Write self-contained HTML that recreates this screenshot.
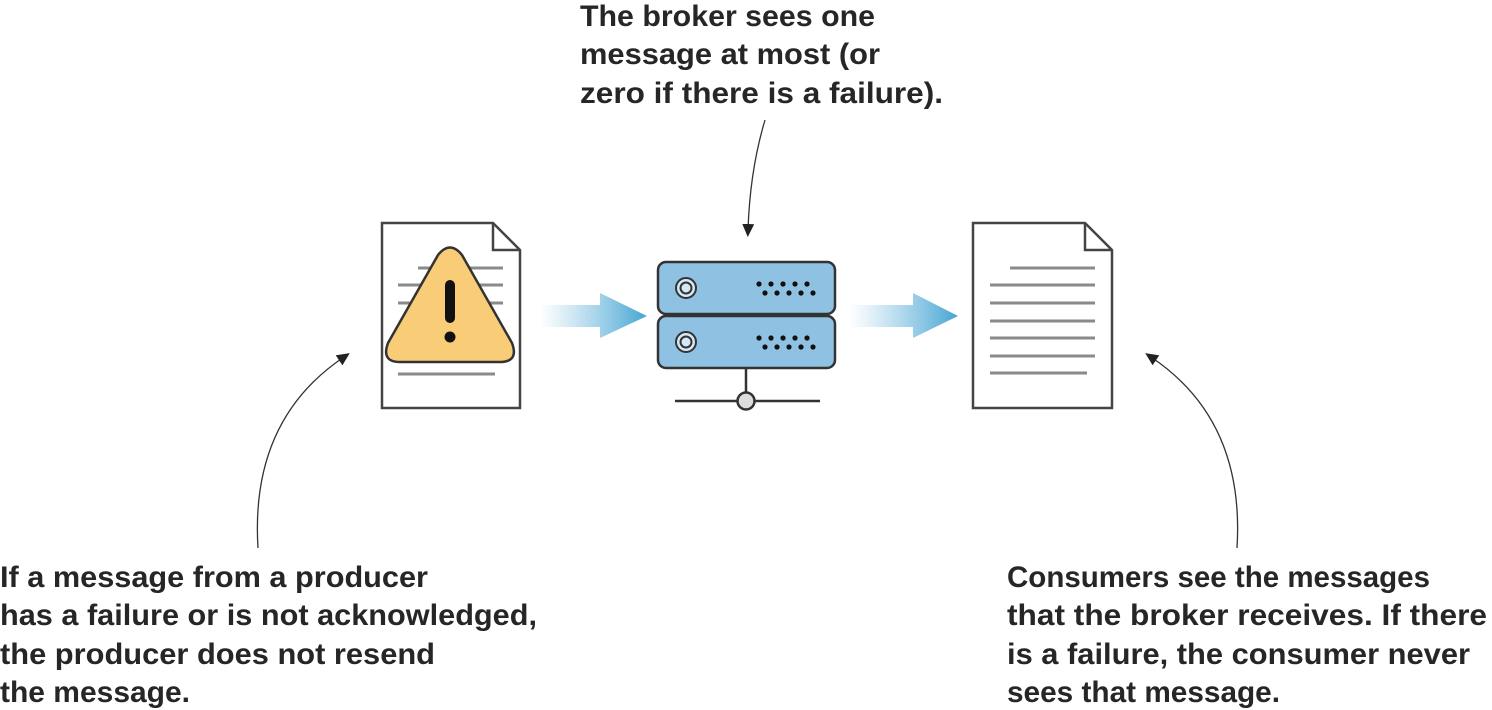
<!DOCTYPE html>
<html><head><meta charset="utf-8"><style>
html,body{margin:0;padding:0;background:#fff;width:1492px;height:710px;overflow:hidden}
svg text{font-family:"Liberation Sans",sans-serif;font-weight:bold;font-size:30px;fill:#262626}
</style></head><body>
<svg width="1492" height="710" viewBox="0 0 1492 710" xmlns="http://www.w3.org/2000/svg">
<defs>
<linearGradient id="g" x1="0" x2="1" y1="0" y2="0">
<stop offset="0" stop-color="#6fb8dc" stop-opacity="0"/>
<stop offset="1" stop-color="#45a5d3"/>
</linearGradient>
<marker id="ah" markerWidth="14" markerHeight="14" refX="6" refY="6" orient="auto" markerUnits="userSpaceOnUse">
<path d="M0,0 L13,6 L0,12 Z" fill="#222"/>
</marker>
</defs>

<path d="M382,223 H493 L520,250 V408 H382 Z" fill="#fff" stroke="#444" stroke-width="2.5"/>
<path d="M493,223 V250 H520" fill="none" stroke="#444" stroke-width="2.5"/>
<g stroke="#8a8a8a" stroke-width="3">
<line x1="418" y1="268" x2="503" y2="268"/>
<line x1="398" y1="285" x2="503" y2="285"/>
<line x1="398" y1="303" x2="503" y2="303"/>
<line x1="398" y1="374" x2="495" y2="374"/>
</g>
<path d="M438,255 Q450,240 462,255 L512,343 Q519,362 500,362 H400 Q381,362 388,343 Z" fill="#f9cd77" stroke="#333" stroke-width="2.5" stroke-linejoin="round"/>
<line x1="450" y1="285" x2="450" y2="318" stroke="#111" stroke-width="10" stroke-linecap="round"/>
<circle cx="450" cy="337" r="5.5" fill="#111"/>

<path d="M540,305 H600 V293 L647,316 L600,338 V327 H540 Z" fill="url(#g)"/>

<rect x="658" y="262" width="177" height="52" rx="8" fill="#8fc1e2" stroke="#333" stroke-width="2.5"/>
<rect x="658" y="316" width="177" height="52" rx="8" fill="#8fc1e2" stroke="#333" stroke-width="2.5"/>
<g fill="#d4e8f5" stroke="#333" stroke-width="2">
<circle cx="686" cy="288" r="10"/><circle cx="686" cy="288" r="5.5"/>
<circle cx="686" cy="342" r="10"/><circle cx="686" cy="342" r="5.5"/>
</g>
<g fill="#111">
<circle cx="759" cy="284" r="2.6"/><circle cx="771" cy="284" r="2.6"/><circle cx="783" cy="284" r="2.6"/><circle cx="795" cy="284" r="2.6"/><circle cx="807" cy="284" r="2.6"/>
<circle cx="765" cy="293" r="2.6"/><circle cx="777" cy="293" r="2.6"/><circle cx="789" cy="293" r="2.6"/><circle cx="801" cy="293" r="2.6"/><circle cx="813" cy="293" r="2.6"/>
<circle cx="759" cy="338" r="2.6"/><circle cx="771" cy="338" r="2.6"/><circle cx="783" cy="338" r="2.6"/><circle cx="795" cy="338" r="2.6"/><circle cx="807" cy="338" r="2.6"/>
<circle cx="765" cy="347" r="2.6"/><circle cx="777" cy="347" r="2.6"/><circle cx="789" cy="347" r="2.6"/><circle cx="801" cy="347" r="2.6"/><circle cx="813" cy="347" r="2.6"/>
</g>
<line x1="746" y1="368" x2="746" y2="393" stroke="#333" stroke-width="2.5"/>
<line x1="675" y1="401" x2="820" y2="401" stroke="#333" stroke-width="2.5"/>
<circle cx="746" cy="401" r="8.5" fill="#ddd" stroke="#333" stroke-width="2.5"/>

<path d="M850,305 H913 V293 L958,316 L913,338 V327 H850 Z" fill="url(#g)"/>

<path d="M973,223 H1085 L1112,250 V408 H973 Z" fill="#fff" stroke="#444" stroke-width="2.5"/>
<path d="M1085,223 V250 H1112" fill="none" stroke="#444" stroke-width="2.5"/>
<g stroke="#8a8a8a" stroke-width="3">
<line x1="1010" y1="268" x2="1095" y2="268"/>
<line x1="990" y1="285" x2="1095" y2="285"/>
<line x1="990" y1="303" x2="1095" y2="303"/>
<line x1="990" y1="321" x2="1095" y2="321"/>
<line x1="990" y1="338" x2="1095" y2="338"/>
<line x1="990" y1="356" x2="1095" y2="356"/>
<line x1="990" y1="373" x2="1087" y2="373"/>
</g>

<g fill="none" stroke="#333" stroke-width="1.3">
<path d="M765,120 Q750,170 748,230" marker-end="url(#ah)"/>
<path d="M258,548 Q250,420 344,357" marker-end="url(#ah)"/>
<path d="M1237,548 Q1245,420 1151,357" marker-end="url(#ah)"/>
</g>

<text x="580" y="26" textLength="295" lengthAdjust="spacingAndGlyphs">The broker sees one</text>
<text x="580" y="64" textLength="300" lengthAdjust="spacingAndGlyphs">message at most (or</text>
<text x="580" y="103" textLength="363" lengthAdjust="spacingAndGlyphs">zero if there is a failure).</text>

<text x="0" y="587" textLength="428" lengthAdjust="spacingAndGlyphs">If a message from a producer</text>
<text x="0" y="625" textLength="537" lengthAdjust="spacingAndGlyphs">has a failure or is not acknowledged,</text>
<text x="0" y="664" textLength="435" lengthAdjust="spacingAndGlyphs">the producer does not resend</text>
<text x="0" y="702" textLength="190" lengthAdjust="spacingAndGlyphs">the message.</text>

<text x="1007" y="587" textLength="423" lengthAdjust="spacingAndGlyphs">Consumers see the messages</text>
<text x="1007" y="625" textLength="480" lengthAdjust="spacingAndGlyphs">that the broker receives. If there</text>
<text x="1007" y="664" textLength="463" lengthAdjust="spacingAndGlyphs">is a failure, the consumer never</text>
<text x="1007" y="702" textLength="273" lengthAdjust="spacingAndGlyphs">sees that message.</text>
</svg>
</body></html>
